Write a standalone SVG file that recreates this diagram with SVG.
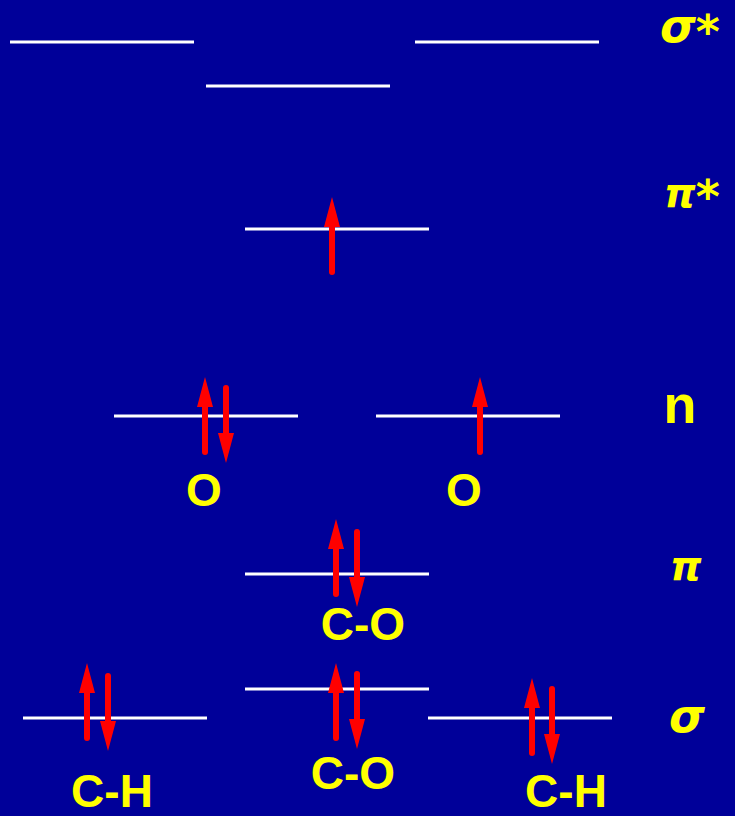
<svg xmlns="http://www.w3.org/2000/svg" xmlns:xlink="http://www.w3.org/1999/xlink" width="735" height="816" viewBox="0 0 735 816">
<style>
.lvl{stroke:#FFFFFF;stroke-width:3;fill:none}
.lbl{font-family:"Liberation Sans",Arial,sans-serif;font-weight:bold;font-size:46px;fill:#FFFF00;text-anchor:middle}
.grk{font-family:"DejaVu Sans",sans-serif;font-weight:bold;font-style:italic;fill:#FFFF00}
.sg{font-size:46px}
.pi{font-size:40px}
.ast{font-size:46px}
.n{font-family:"Liberation Sans",Arial,sans-serif;font-weight:bold;font-size:54px;fill:#FFFF00;text-anchor:middle}
</style>
<defs>
<g id="up"><line x1="0" y1="75" x2="0" y2="28" stroke="#FF0000" stroke-width="6" stroke-linecap="round"/><polygon points="0,0 8,30 -8,30" fill="#FF0000"/></g>
<g id="dn"><line x1="0" y1="3" x2="0" y2="50" stroke="#FF0000" stroke-width="6" stroke-linecap="round"/><polygon points="0,78 8,48 -8,48" fill="#FF0000"/></g>
</defs>
<rect x="0" y="0" width="735" height="816" fill="#000099"/>
<g id="sigma-star">
<line class="lvl" x1="10" y1="42" x2="194" y2="42"/>
<line class="lvl" x1="206" y1="86" x2="390" y2="86"/>
<line class="lvl" x1="415" y1="42" x2="599" y2="42"/>
<text class="grk" x="660" y="42"><tspan class="sg">σ</tspan><tspan class="ast" dx="0" dy="6">*</tspan></text>
</g>
<g id="pi-star">
<line class="lvl" x1="245" y1="229" x2="429" y2="229"/>
<use xlink:href="#up" x="332" y="197"/>
<text class="grk" x="664" y="207"><tspan class="pi">π</tspan><tspan class="ast" dx="0" dy="6">*</tspan></text>
</g>
<g id="n-left">
<line class="lvl" x1="114" y1="416" x2="298" y2="416"/>
<use xlink:href="#up" x="205" y="377"/>
<use xlink:href="#dn" x="226" y="385"/>
<text class="lbl" x="204" y="506">O</text>
</g>
<g id="n-right">
<line class="lvl" x1="376" y1="416" x2="560" y2="416"/>
<use xlink:href="#up" x="480" y="377"/>
<text class="lbl" x="464" y="506">O</text>
</g>
<text class="n" x="680" y="423">n</text>
<g id="pi">
<line class="lvl" x1="245" y1="574" x2="429" y2="574"/>
<use xlink:href="#up" x="336" y="519"/>
<use xlink:href="#dn" x="357" y="529"/>
<text class="lbl" x="363" y="640">C-O</text>
<text class="grk pi" x="670" y="580">π</text>
</g>
<g id="sigma-co">
<line class="lvl" x1="245" y1="689" x2="429" y2="689"/>
<use xlink:href="#up" x="336" y="663"/>
<use xlink:href="#dn" x="357" y="671"/>
<text class="lbl" x="353" y="789">C-O</text>
</g>
<g id="sigma-ch-left">
<line class="lvl" x1="23" y1="718" x2="207" y2="718"/>
<use xlink:href="#up" x="87" y="663"/>
<use xlink:href="#dn" x="108" y="673"/>
<text class="lbl" x="112" y="807">C-H</text>
</g>
<g id="sigma-ch-right">
<line class="lvl" x1="428" y1="718" x2="612" y2="718"/>
<use xlink:href="#up" x="532" y="678"/>
<use xlink:href="#dn" x="552" y="686"/>
<text class="lbl" x="566" y="807">C-H</text>
</g>
<text class="grk sg" x="669" y="732">σ</text>
</svg>
